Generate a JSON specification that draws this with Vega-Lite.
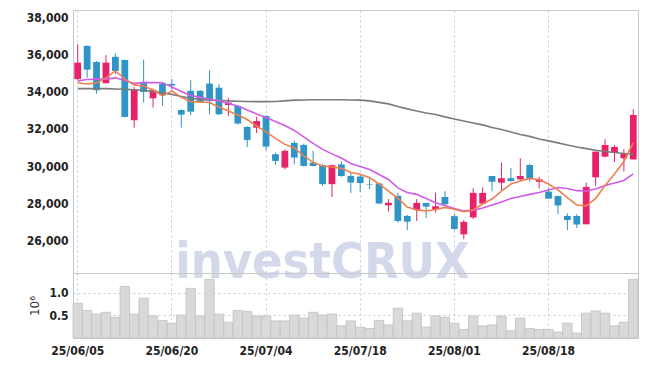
{
  "$schema": "https://vega.github.io/schema/vega-lite/v6.json",
  "padding": {"left": 25, "top": 9, "right": 9, "bottom": 0},
  "spacing": 0,
  "bounds": "flush",
  "resolve": {"scale": {"y": "independent", "x": "shared"}},
  "config": {
    "view": {"stroke": "#c8c8c8"},
    "axis": {
      "labelFont": "DejaVu Sans Condensed",
      "labelFontSize": 12,
      "labelFontWeight": "bold",
      "labelColor": "#222222",
      "gridColor": "#c5cade",
      "gridDash": [2, 3],
      "gridWidth": 1,
      "ticks": false,
      "domain": false,
      "titleFont": "DejaVu Sans",
      "titleFontWeight": "normal",
      "titleFontSize": 12,
      "titleColor": "#333333"
    }
  },
  "data": {"values": [
    {"d":"25/06/05","o":34680,"h":36560,"l":34640,"c":35570,"v":0.77,"m5":34490,"m10":34580,"m60":34170},
    {"d":"25/06/09","o":36470,"h":36490,"l":34760,"c":35190,"v":0.61,"m5":34420,"m10":34660,"m60":34170},
    {"d":"25/06/10","o":35600,"h":35660,"l":33900,"c":34080,"v":0.53,"m5":34480,"m10":34680,"m60":34170},
    {"d":"25/06/11","o":34460,"h":35970,"l":34450,"c":35570,"v":0.57,"m5":34750,"m10":34680,"m60":34170},
    {"d":"25/06/12","o":35880,"h":36070,"l":34940,"c":35120,"v":0.46,"m5":35120,"m10":34750,"m60":34150},
    {"d":"25/06/13","o":35710,"h":35740,"l":32620,"c":32650,"v":1.14,"m5":34690,"m10":34610,"m60":34140},
    {"d":"25/06/16","o":32470,"h":34260,"l":32070,"c":34140,"v":0.53,"m5":34370,"m10":34450,"m60":34110},
    {"d":"25/06/17","o":34530,"h":35730,"l":33420,"c":33990,"v":0.88,"m5":34310,"m10":34490,"m60":34070},
    {"d":"25/06/18","o":33650,"h":34170,"l":33150,"c":34100,"v":0.49,"m5":34100,"m10":34500,"m60":34020},
    {"d":"25/06/19","o":34440,"h":34530,"l":33240,"c":33810,"v":0.39,"m5":33780,"m10":34490,"m60":33940},
    {"d":"25/06/20","o":34420,"h":34680,"l":34100,"c":34340,"v":0.33,"m5":34050,"m10":34260,"m60":33860},
    {"d":"25/06/23","o":33020,"h":33050,"l":32070,"c":32770,"v":0.51,"m5":33700,"m10":34020,"m60":33750},
    {"d":"25/06/24","o":34050,"h":34620,"l":32750,"c":32930,"v":1.10,"m5":33470,"m10":33800,"m60":33650},
    {"d":"25/06/25","o":34050,"h":34100,"l":33400,"c":33450,"v":0.49,"m5":33450,"m10":33700,"m60":33590},
    {"d":"25/06/26","o":34440,"h":35160,"l":32790,"c":33600,"v":1.30,"m5":33420,"m10":33600,"m60":33550},
    {"d":"25/06/27","o":34220,"h":34410,"l":32750,"c":32790,"v":0.53,"m5":33180,"m10":33510,"m60":33530},
    {"d":"25/06/30","o":33290,"h":33680,"l":32700,"c":33420,"v":0.35,"m5":32970,"m10":33370,"m60":33510},
    {"d":"25/07/01","o":33240,"h":33290,"l":32240,"c":32290,"v":0.61,"m5":32750,"m10":33240,"m60":33490},
    {"d":"25/07/02","o":32110,"h":32140,"l":31030,"c":31410,"v":0.59,"m5":32510,"m10":33020,"m60":33480},
    {"d":"25/07/03","o":32070,"h":32660,"l":31770,"c":32430,"v":0.49,"m5":32160,"m10":32810,"m60":33470},
    {"d":"25/07/04","o":32700,"h":32730,"l":30850,"c":31050,"v":0.49,"m5":31840,"m10":32620,"m60":33470},
    {"d":"25/07/07","o":30640,"h":30730,"l":30060,"c":30280,"v":0.38,"m5":31490,"m10":32400,"m60":33480},
    {"d":"25/07/08","o":29920,"h":30910,"l":29830,"c":30820,"v":0.38,"m5":31170,"m10":32190,"m60":33510},
    {"d":"25/07/09","o":31250,"h":31360,"l":30100,"c":30460,"v":0.51,"m5":30980,"m10":31920,"m60":33550},
    {"d":"25/07/10","o":31140,"h":31210,"l":29980,"c":30010,"v":0.44,"m5":30550,"m10":31570,"m60":33560},
    {"d":"25/07/11","o":30190,"h":30820,"l":29980,"c":30010,"v":0.57,"m5":30200,"m10":31220,"m60":33570},
    {"d":"25/07/14","o":30050,"h":30120,"l":28930,"c":29030,"v":0.51,"m5":30010,"m10":30900,"m60":33570},
    {"d":"25/07/15","o":29030,"h":30090,"l":28340,"c":30050,"v":0.53,"m5":29960,"m10":30660,"m60":33570},
    {"d":"25/07/16","o":30090,"h":30250,"l":29420,"c":29470,"v":0.27,"m5":29880,"m10":30440,"m60":33570},
    {"d":"25/07/17","o":29470,"h":29660,"l":28560,"c":29120,"v":0.38,"m5":29660,"m10":30140,"m60":33560},
    {"d":"25/07/18","o":29440,"h":29530,"l":28610,"c":29090,"v":0.24,"m5":29560,"m10":29980,"m60":33550},
    {"d":"25/07/21","o":29040,"h":29350,"l":28760,"c":29010,"v":0.21,"m5":29380,"m10":29820,"m60":33510},
    {"d":"25/07/22","o":29070,"h":29100,"l":27960,"c":27990,"v":0.39,"m5":29040,"m10":29550,"m60":33430},
    {"d":"25/07/23","o":27890,"h":28220,"l":27550,"c":28030,"v":0.29,"m5":28660,"m10":29280,"m60":33350},
    {"d":"25/07/24","o":28400,"h":28570,"l":26960,"c":27050,"v":0.66,"m5":28260,"m10":28830,"m60":33210},
    {"d":"25/07/25","o":27320,"h":27370,"l":26550,"c":27010,"v":0.38,"m5":27800,"m10":28580,"m60":33080},
    {"d":"25/07/28","o":27630,"h":28220,"l":27050,"c":28020,"v":0.55,"m5":27640,"m10":28480,"m60":32970},
    {"d":"25/07/29","o":28020,"h":28030,"l":27200,"c":27820,"v":0.24,"m5":27590,"m10":28260,"m60":32860},
    {"d":"25/07/30","o":27660,"h":28570,"l":27500,"c":27840,"v":0.49,"m5":27670,"m10":28030,"m60":32780},
    {"d":"25/07/31","o":28340,"h":28650,"l":27860,"c":27950,"v":0.46,"m5":27780,"m10":27880,"m60":32650},
    {"d":"25/08/01","o":27310,"h":27430,"l":26550,"c":26620,"v":0.33,"m5":27680,"m10":27720,"m60":32540},
    {"d":"25/08/04","o":26330,"h":27100,"l":26070,"c":27000,"v":0.19,"m5":27550,"m10":27590,"m60":32430},
    {"d":"25/08/05","o":27240,"h":28810,"l":27160,"c":28560,"v":0.49,"m5":27640,"m10":27620,"m60":32320},
    {"d":"25/08/06","o":27980,"h":28850,"l":27980,"c":28560,"v":0.27,"m5":27960,"m10":27750,"m60":32220},
    {"d":"25/08/07","o":29470,"h":29470,"l":28650,"c":29160,"v":0.29,"m5":28230,"m10":27910,"m60":32080},
    {"d":"25/08/08","o":29110,"h":30190,"l":28700,"c":29350,"v":0.49,"m5":28660,"m10":28070,"m60":31970},
    {"d":"25/08/11","o":29350,"h":29890,"l":29150,"c":29200,"v":0.16,"m5":29040,"m10":28260,"m60":31840},
    {"d":"25/08/12","o":29290,"h":30420,"l":29230,"c":29470,"v":0.44,"m5":29200,"m10":28370,"m60":31700},
    {"d":"25/08/13","o":30060,"h":30130,"l":29160,"c":29350,"v":0.21,"m5":29340,"m10":28480,"m60":31600},
    {"d":"25/08/14","o":29160,"h":29420,"l":28810,"c":29290,"v":0.19,"m5":29270,"m10":28580,"m60":31460},
    {"d":"25/08/18","o":28630,"h":28840,"l":28250,"c":28250,"v":0.19,"m5":29040,"m10":28720,"m60":31360},
    {"d":"25/08/19","o":28390,"h":28420,"l":27420,"c":27880,"v":0.13,"m5":28720,"m10":28850,"m60":31250},
    {"d":"25/08/20","o":27320,"h":27460,"l":26560,"c":27100,"v":0.33,"m5":28300,"m10":28800,"m60":31140},
    {"d":"25/08/21","o":27320,"h":27410,"l":26670,"c":26860,"v":0.11,"m5":27910,"m10":28680,"m60":31030},
    {"d":"25/08/22","o":26870,"h":29110,"l":26870,"c":28880,"v":0.55,"m5":27860,"m10":28660,"m60":30940},
    {"d":"25/08/25","o":29400,"h":30780,"l":28930,"c":30780,"v":0.60,"m5":28260,"m10":28770,"m60":30850},
    {"d":"25/08/26","o":30510,"h":31450,"l":30460,"c":31140,"v":0.55,"m5":28960,"m10":28960,"m60":30790},
    {"d":"25/08/27","o":30720,"h":31140,"l":30220,"c":31030,"v":0.27,"m5":29580,"m10":29090,"m60":30730},
    {"d":"25/08/28","o":30420,"h":30910,"l":29710,"c":30680,"v":0.35,"m5":30250,"m10":29230,"m60":30680},
    {"d":"25/08/29","o":30360,"h":33060,"l":30360,"c":32750,"v":1.30,"m5":31260,"m10":29580,"m60":30640}
  ]},
  "vconcat": [
    {
      "width": 565,
      "height": 263,
      "encoding": {
        "x": {
          "field": "d", "type": "ordinal", "sort": "ascending",
          "scale": {"type": "band", "paddingInner": 0, "paddingOuter": 0},
          "axis": {"title": null, "labels": false, "grid": true, "bandPosition": 0.5, "minExtent": 0, "maxExtent": 0,
                   "values": ["25/06/05","25/06/20","25/07/04","25/07/18","25/08/01","25/08/18"]}
        }
      },
      "layer": [
        {
          "transform": [{"filter": "datum.d == '25/07/14'"}],
          "mark": {"type": "text", "font": "DejaVu Sans Condensed", "fontWeight": "bold", "fontSize": 50, "color": "#d3d9ea", "align": "center", "baseline": "alphabetic"},
          "encoding": {
            "y": {"datum": 23990, "type": "quantitative"},
            "text": {"value": "investCRUX"}
          }
        },
        {
          "mark": {"type": "rule", "strokeWidth": 1},
          "encoding": {
            "y": {"field": "l", "type": "quantitative",
                  "scale": {"domain": [24250, 38400], "nice": false, "zero": false},
                  "axis": {"title": null, "values": [26000,28000,30000,32000,34000,36000,38000], "format": ",d", "labelPadding": 5, "minExtent": 44, "maxExtent": 44}},
            "y2": {"field": "h"},
            "color": {"condition": {"test": "datum.c >= datum.o", "value": "#e8216b"}, "value": "#2f95c6"}
          }
        },
        {
          "mark": {"type": "bar", "width": {"band": 0.72}},
          "encoding": {
            "y": {"field": "o", "type": "quantitative"},
            "y2": {"field": "c"},
            "color": {"condition": {"test": "datum.c >= datum.o", "value": "#e8216b"}, "value": "#2f95c6"}
          }
        },
        {
          "mark": {"type": "line", "color": "#7b7b7b", "strokeWidth": 1.6},
          "encoding": {"y": {"field": "m60", "type": "quantitative"}}
        },
        {
          "mark": {"type": "line", "color": "#cf5ce8", "strokeWidth": 1.6},
          "encoding": {"y": {"field": "m10", "type": "quantitative"}}
        },
        {
          "mark": {"type": "line", "color": "#ef7f4d", "strokeWidth": 1.6},
          "encoding": {"y": {"field": "m5", "type": "quantitative"}}
        }
      ]
    },
    {
      "width": 565,
      "height": 65,
      "mark": {"type": "bar", "color": "#d9d9d9", "stroke": "#c2c2c2", "strokeWidth": 0.8},
      "encoding": {
        "x": {
          "field": "d", "type": "ordinal", "sort": "ascending",
          "scale": {"type": "band", "paddingInner": 0, "paddingOuter": 0},
          "axis": {"title": null, "grid": true, "bandPosition": 0.5, "labelAngle": 0, "labelPadding": 7,
                   "values": ["25/06/05","25/06/20","25/07/04","25/07/18","25/08/01","25/08/18"]}
        },
        "y": {
          "field": "v", "type": "quantitative",
          "scale": {"domain": [0, 1.44], "nice": false},
          "axis": {"title": "10⁶", "values": [0.5, 1.0], "format": ".1f", "labelPadding": 5, "minExtent": 20, "maxExtent": 20, "titlePadding": 12}
        }
      }
    }
  ]
}
